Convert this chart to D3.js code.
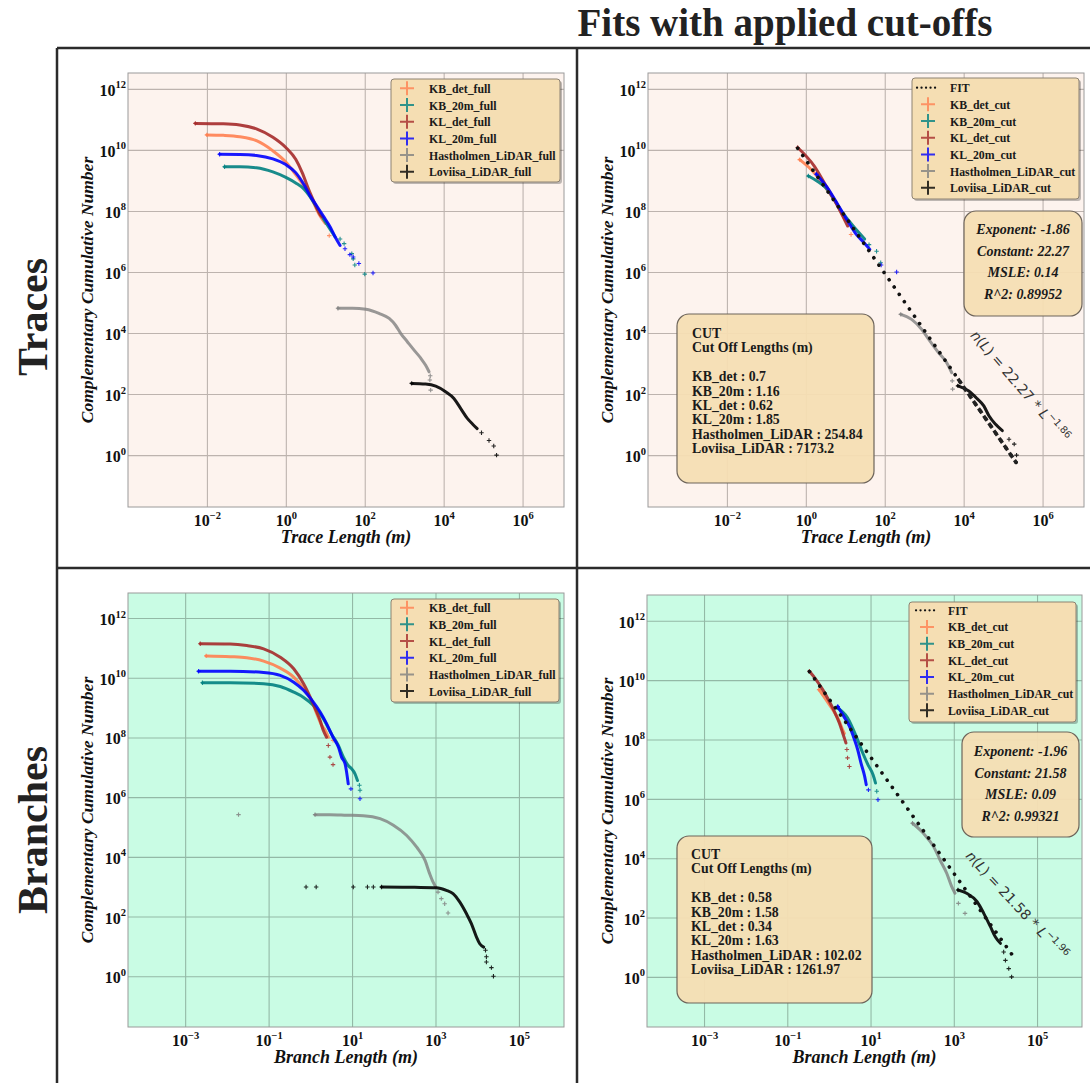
<!DOCTYPE html>
<html>
<head>
<meta charset="utf-8">
<script src="https://cdn.jsdelivr.net/npm/d3@7"></script>
<style>
  html, body { margin: 0; padding: 0; background: #fff; }
  svg { display: block; }
</style>
</head>
<body>
<svg id="fig" width="1090" height="1083"></svg>
<script>
// ---------- series identity ----------
const seriesNames = ["KB_det", "KB_20m", "KL_det", "KL_20m", "Hastholmen_LiDAR", "Loviisa_LiDAR"];
const seriesColors = ["#ff7f50", "#008080", "#a52a2a", "#0000ff", "#808080", "#000000"];

// ---------- trace lengths, full datasets: [length (m), complementary cumulative number] ----------
const traceFullKBdet = [[0.01,3.1e10],[0.026,3.0e10],[0.068,2.7e10],[0.18,2.0e10],[0.47,9.3e9],[1.0,4.0e9],[1.78,1.55e9],[2.9,6.5e8],[4.7,2.3e8],[6.8,8.3e7],[10,3.9e7]];
const traceFullKBdetTail = [[12.6,1.55e7]];
const traceFullKB20m = [[0.028,2.8e9],[0.068,2.8e9],[0.18,2.6e9],[0.47,1.9e9],[1.0,1.26e9],[1.78,8.3e8],[2.9,5.2e8],[3.8,3.4e8],[8.3,6.5e7],[17.8,1.4e7]];
const traceFullKB20mTail = [[23.7,1.2e7],[30,8.5e6],[47,4.0e6],[51,2.7e6],[56,1.7e6],[100,8.5e5]];
const traceFullKLdet = [[0.0051,7.4e10],[0.026,7.2e10],[0.068,6.6e10],[0.18,4.9e10],[0.47,2.6e10],[1.0,1.2e10],[1.78,4.9e9],[2.6,1.8e9],[3.8,5.0e8],[5.6,1.6e8],[7.5,7.4e7],[8.3,6.5e7]];
const traceFullKLdetTail = [];
const traceFullKL20m = [[0.021,7.2e9],[0.068,7.1e9],[0.18,6.6e9],[0.47,5.1e9],[1.0,3.3e9],[1.78,1.8e9],[2.9,7.2e8],[4.2,3.0e8],[6.2,1.4e8],[9.1,6.5e7],[13.3,3.0e7],[17.8,1.4e7],[23.7,7.4e6]];
const traceFullKL20mTail = [[31.6,5.8e6],[42,3.7e6],[51,3.1e6],[71,1.9e6],[162,9.3e5]];
const traceFullHast = [[21,6.5e4],[49,6.5e4],[107,6.0e4],[229,4.4e4],[417,3.0e4],[603,1.8e4],[813,9.8e3],[1200,5.2e3],[1780,2.75e3],[2630,1.5e3],[3470,890],[4270,540]];
const traceFullHastTail = [[4570,400],[4470,290],[4680,135]];
const traceFullLov = [[1550,224],[3470,214],[6300,182],[11200,120],[18200,72],[26900,34],[39800,16],[53700,10.5],[70800,7.4]];
const traceFullLovTail = [[91000,5.4],[141000,3.0],[186000,2.0],[219000,1]];

// ---------- trace lengths, after cut-off ----------
const traceCutKBdet = [[0.7,4.8e9],[1.62,1.8e9],[2.95,6.5e8],[6.3,1.6e8],[10,5.0e7]];
const traceCutKBdetTail = [[14,1.7e7]];
const traceCutKB20m = [[1.16,1.4e9],[2.0,9.3e8],[3.2,5.8e8],[7.9,1.0e8],[15.8,3.2e7],[31,1.2e7]];
const traceCutKB20mTail = [[40,7.9e6],[62,4.8e6],[79,2.0e6]];
const traceCutKLdet = [[0.62,1.2e10],[1.62,3.0e9],[2.95,8.3e8],[5.6,2.0e8],[11.5,3.2e7]];
const traceCutKLdetTail = [];
const traceCutKL20m = [[1.85,1.6e9],[3.5,5.8e8],[6.5,1.6e8],[11.5,4.7e7],[19,1.7e7],[28,1.0e7],[42,5.5e6]];
const traceCutKL20mTail = [[81,1.7e6],[200,1.0e6]];
const traceCutHast = [[255,4.1e4],[480,2.8e4],[870,1.3e4],[1290,6.3e3],[2290,2.3e3],[3720,1.07e3],[5000,500]];
const traceCutHastTail = [[5130,270],[5250,145]];
const traceCutLov = [[7170,186],[13500,126],[21900,71],[32400,41],[43700,19.5],[64600,10.2],[95500,6.3]];
const traceCutLovTail = [[141000,3.3],[191000,2.3],[219000,1]];

// ---------- branch lengths, full datasets ----------
const branchFullKBdet = [[0.0032,5.4e10],[0.012,5.1e10],[0.030,4.7e10],[0.076,3.6e10],[0.19,2.1e10],[0.40,1.05e10],[0.69,4.3e9],[1.1,1.55e9],[1.43,6.2e8],[1.88,2.5e8],[2.26,1.74e8],[2.7,1.02e8]];
const branchFullKBdetTail = [[3.5,8e7]];
const branchFullKB20m = [[0.0026,6.8e9],[0.012,6.8e9],[0.076,6.3e9],[0.19,5.1e9],[0.40,3.3e9],[0.69,2.2e9],[1.19,1.17e9],[2.04,4.3e8],[3.2,1.32e8],[4.7,5.4e7],[6.2,2.2e7],[8.1,1.15e7],[9.8,8.9e6],[11.7,6.2e6],[13.5,3.6e6]];
const branchFullKB20mTail = [[15,2.5e6],[15.5,1.7e6]];
const branchFullKLdet = [[0.0023,1.38e11],[0.012,1.35e11],[0.030,1.2e11],[0.076,9.3e10],[0.19,4.9e10],[0.40,2.0e10],[0.69,6.3e9],[1.0,2.2e9],[1.32,9.1e8],[1.72,3.7e8],[2.04,1.74e8],[2.45,1.02e8]];
const branchFullKLdetTail = [[2.7,5.4e7],[2.95,2.2e7],[3.5,1.23e7]];
const branchFullKL20m = [[0.0021,1.66e10],[0.012,1.66e10],[0.076,1.5e10],[0.19,1.2e10],[0.40,7.1e9],[0.69,3.8e9],[1.1,1.74e9],[1.72,7.1e8],[2.45,2.9e8],[3.5,1.02e8],[4.7,4.8e7],[5.6,2.2e7],[6.8,1.3e7],[7.4,6.9e6],[8.1,2.8e6]];
const branchFullKL20mTail = [[9.4,1.9e6],[15.5,8.9e5]];
const branchFullHast = [[1.3,2.6e5],[2.95,2.6e5],[7.4,2.5e5],[18.6,2.4e5],[47,1.9e5],[98,1.15e5],[204,5.2e4],[355,2.1e4],[562,7.6e3],[724,2.75e3],[871,1.45e3],[1020,980]];
const branchFullHastTail = [[0.019,2.6e5],[1150,660],[1380,400],[1660,270],[2000,132]];
const branchFullLov = [[51,980],[316,955],[1050,930],[1820,760],[2630,590],[3800,310],[5500,126],[7240,58],[9550,21],[11500,12.3],[14300,9.5]];
const branchFullLovTail = [[0.79,980],[1.38,980],[10.7,980],[23.4,980],[32.4,980],[15800,7.4],[16600,4.5],[16600,3.0],[21900,1.95],[24500,1]];

// ---------- branch lengths, after cut-off ----------
const branchCutKBdet = [[0.58,4.8e9],[0.85,2.2e9],[1.23,1.02e9],[1.78,4.1e8],[2.14,2.1e8],[2.35,1.6e8]];
const branchCutKBdetTail = [];
const branchCutKB20m = [[1.58,1.17e9],[2.8,5.4e8],[4.5,1.3e8],[6.5,3.5e7],[8.7,1.4e7],[11.5,6.5e6],[13.2,3.4e6]];
const branchCutKB20mTail = [[14.1,1.8e6]];
const branchCutKLdet = [[0.34,2.0e10],[0.49,1.05e10],[0.71,4.8e9],[1.02,1.95e9],[1.35,8.9e8],[1.78,3.6e8],[2.14,1.66e8],[2.57,7.6e7]];
const branchCutKLdetTail = [[2.7,4.6e7],[2.8,2.4e7],[3.1,1.23e7]];
const branchCutKL20m = [[1.63,1.3e9],[2.14,6.9e8],[3.1,2.8e8],[4.1,1.0e8],[4.9,4.6e7],[5.9,1.6e7],[7.2,5.8e6],[7.9,3.0e6]];
const branchCutKL20mTail = [[8.9,2.0e6],[15.1,9.3e5]];
const branchCutHast = [[102,1.5e5],[186,6.9e4],[324,2.5e4],[468,8.7e3],[676,3.1e3],[891,1.1e3],[1070,660]];
const branchCutHastTail = [[1290,300],[1860,138]];
const branchCutLov = [[1262,850],[2040,660],[3630,340],[5250,138],[7590,49],[10000,22],[13200,13.5]];
const branchCutLovTail = [[15800,6.9],[17400,3.6],[20900,1.9],[24500,1]];

// ---------- cut-offs and power-law fit results ----------
const traceCutoffs = [0.7, 1.16, 0.62, 1.85, 254.84, 7173.2];
const branchCutoffs = [0.58, 1.58, 0.34, 1.63, 102.02, 1261.97];
// exponent, constant (natural log), MSLE, R^2
const traceFitStats = [-1.86, 22.27, 0.14, 0.89952];
const branchFitStats = [-1.96, 21.58, 0.09, 0.99321];

// ---------- tick exponents ----------
const traceXTickExps = [-2, 0, 2, 4, 6];
const branchXTickExps = [-3, -1, 1, 3, 5];
const yTickExps = [0, 2, 4, 6, 8, 10, 12];

// ---------------------------------------------------------------------------
const svg = d3.select("#fig");
const defs = svg.append("defs");
const SERIF = "'Liberation Serif','Times New Roman',serif";
const MINUS = "\u2212";
const expText = e => (e < 0 ? MINUS : "") + Math.abs(e);
const cross = r => `M${-r},0H${r}M0,${-r}V${r}`;

function makePanel(cfg) {
  const { left, top, w, h } = cfg;
  const x = d3.scaleLog().domain(cfg.xDomain.map(e => Math.pow(10, e))).range([left, left + w]);
  const y = d3.scaleLog().domain(cfg.yDomain.map(e => Math.pow(10, e))).range([top + h, top]);
  const g = svg.append("g");

  defs.append("clipPath").attr("id", "clip-" + cfg.id)
    .append("rect").attr("x", left).attr("y", top).attr("width", w).attr("height", h);

  g.append("rect").attr("x", left).attr("y", top).attr("width", w).attr("height", h).attr("fill", cfg.bg);

  const xTicks = cfg.xTickExps.map(e => Math.pow(10, e));
  const yTicks = yTickExps.map(e => Math.pow(10, e));

  // grid lines
  const gx = g.append("g").attr("transform", `translate(0,${top + h})`)
    .call(d3.axisBottom(x).tickValues(xTicks).tickSize(-h).tickFormat(""));
  const gy = g.append("g").attr("transform", `translate(${left},0)`)
    .call(d3.axisLeft(y).tickValues(yTicks).tickSize(-w).tickFormat(""));
  [gx, gy].forEach(a => {
    a.select(".domain").remove();
    a.selectAll(".tick text").remove();
    a.selectAll(".tick line").attr("stroke", cfg.gridColor).attr("stroke-width", 1.1);
  });

  // tick labels: 10 with superscript exponent
  gx.selectAll(".tick").each(function (d) {
    const t = d3.select(this).append("text")
      .attr("y", 19).attr("text-anchor", "middle")
      .attr("font-family", SERIF).attr("font-weight", "bold").attr("font-size", 16).attr("fill", "#111");
    t.append("tspan").text("10");
    t.append("tspan").attr("dy", -7.5).attr("font-size", 10.5).text(expText(Math.round(Math.log10(d))));
  });
  gy.selectAll(".tick").each(function (d) {
    const t = d3.select(this).append("text")
      .attr("x", -2).attr("y", 6.5).attr("text-anchor", "end")
      .attr("font-family", SERIF).attr("font-weight", "bold").attr("font-size", 16).attr("fill", "#111");
    t.append("tspan").text("10");
    t.append("tspan").attr("dy", -7.5).attr("font-size", 10.5).text(expText(Math.round(Math.log10(d))));
  });

  // data: dense part as a thick trace, sparse outliers as small crosses
  const dg = g.append("g").attr("clip-path", `url(#clip-${cfg.id})`);
  const line = d3.line().x(d => x(d[0])).y(d => y(d[1])).curve(d3.curveMonotoneX);
  cfg.main.forEach((pts, i) => {
    const col = seriesColors[i];
    dg.append("path").datum(pts).attr("d", line)
      .attr("fill", "none").attr("stroke", col).attr("stroke-width", 3)
      .attr("stroke-opacity", i === 4 ? 0.8 : 0.9)
      .attr("stroke-linejoin", "round").attr("stroke-linecap", "round");
    dg.selectAll(null).data([pts[0]].concat(cfg.tails[i])).join("path")
      .attr("transform", d => `translate(${x(d[0])},${y(d[1])})`)
      .attr("d", cross(2.2))
      .attr("stroke", col).attr("stroke-width", 1.1).attr("stroke-opacity", 0.85);
  });

  // power-law fit: n(L) = exp(C) * L^exponent
  if (cfg.fit) {
    const [expo, cst] = cfg.fit.stats;
    const n = L => Math.exp(cst) * Math.pow(L, expo);
    const lMin = d3.min(cfg.fit.cutoffs);
    const loviisa = cfg.main[5].concat(cfg.tails[5]);
    const lMax = d3.max(loviisa, d => d[0]);
    const fitLine = d3.line().x(d => x(d)).y(d => y(n(d)));
    dg.append("path").datum([lMin, lMax]).attr("d", fitLine)
      .attr("fill", "none").attr("stroke", "#111").attr("stroke-width", 3.6)
      .attr("stroke-linecap", "round").attr("stroke-dasharray", "0.1 8.8");
    if (cfg.fit.denseTail) {
      dg.append("path").datum([cfg.fit.cutoffs[5], lMax]).attr("d", fitLine)
        .attr("fill", "none").attr("stroke", "#222").attr("stroke-width", 3.6)
        .attr("stroke-dasharray", "6 3");
    }
  }

  // frame of the axes
  g.append("rect").attr("x", left).attr("y", top).attr("width", w).attr("height", h)
    .attr("fill", "none").attr("stroke", "#9a9a9a").attr("stroke-width", 1);

  // axis titles
  g.append("text").attr("x", left + w / 2).attr("y", top + h + 36).attr("text-anchor", "middle")
    .attr("font-family", SERIF).attr("font-weight", "bold").attr("font-style", "italic")
    .attr("font-size", 18).attr("fill", "#111").text(cfg.xLabel);
  g.append("text").attr("transform", `translate(${cfg.yLabelX},${top + h / 2}) rotate(-90)`)
    .attr("text-anchor", "middle").attr("dy", 5)
    .attr("font-family", SERIF).attr("font-weight", "bold").attr("font-style", "italic")
    .attr("font-size", 17.5).attr("fill", "#111").text("Complementary Cumulative Number");

  // legend
  const L = cfg.legend;
  const lg = g.append("g");
  lg.append("rect").attr("x", L.x + 2).attr("y", L.y + 2).attr("width", L.w).attr("height", L.h)
    .attr("rx", 3).attr("fill", "#000").attr("fill-opacity", 0.25);
  lg.append("rect").attr("x", L.x).attr("y", L.y).attr("width", L.w).attr("height", L.h)
    .attr("rx", 3).attr("fill", "#f5deb3").attr("stroke", "#8d8272").attr("stroke-width", 1);
  let row = 0;
  const addText = (txt, ry) => lg.append("text").attr("x", L.textX).attr("y", ry + 4.5)
    .attr("font-family", SERIF).attr("font-weight", "bold").attr("font-size", 11.8)
    .attr("fill", "#1a1a1a").text(txt);
  if (cfg.fit) {
    const ry = L.row0;
    lg.append("line").attr("x1", L.markX - 11).attr("x2", L.markX + 11).attr("y1", ry).attr("y2", ry)
      .attr("stroke", "#111").attr("stroke-width", 2.2).attr("stroke-linecap", "round")
      .attr("stroke-dasharray", "0.1 4.4");
    addText("FIT", ry);
    row = 1;
  }
  seriesNames.forEach((nm, i) => {
    const ry = L.row0 + (row + i) * L.gap;
    lg.append("path").attr("transform", `translate(${L.markX},${ry})`)
      .attr("d", cross(7)).attr("stroke", seriesColors[i])
      .attr("stroke-width", 2).attr("stroke-opacity", 0.8);
    addText(nm + cfg.suffix, ry);
  });

  // annotation boxes for the fit
  if (cfg.fit) {
    const S = cfg.fit.statBox;
    g.append("rect").attr("x", S.x).attr("y", S.y).attr("width", S.w).attr("height", S.h)
      .attr("rx", 12).attr("fill", "#f5deb3").attr("fill-opacity", 0.95)
      .attr("stroke", "#6d645a").attr("stroke-width", 1.2);
    const st = cfg.fit.stats;
    const statLines = [`Exponent: ${st[0]}`, `Constant: ${st[1]}`, `MSLE: ${st[2]}`, `R^2: ${st[3]}`];
    statLines.forEach((t, k) => g.append("text")
      .attr("x", S.x + S.w / 2).attr("y", S.line0 + k * S.gap + 5).attr("text-anchor", "middle")
      .attr("font-family", SERIF).attr("font-weight", "bold").attr("font-style", "italic")
      .attr("font-size", 14).attr("fill", "#1a1a1a").text(t));

    const C = cfg.fit.cutBox;
    g.append("rect").attr("x", C.x).attr("y", C.y).attr("width", C.w).attr("height", C.h)
      .attr("rx", 12).attr("fill", "#f5deb3").attr("fill-opacity", 0.95)
      .attr("stroke", "#6d645a").attr("stroke-width", 1.2);
    const cutLines = ["CUT", "Cut Off Lengths (m)", ""].concat(
      seriesNames.map((nm, i) => `${nm} : ${cfg.fit.cutoffs[i]}`));
    cutLines.forEach((t, k) => g.append("text")
      .attr("x", C.textX).attr("y", C.line0 + k * C.gap + 5)
      .attr("font-family", SERIF).attr("font-weight", "bold")
      .attr("font-size", 13.8).attr("fill", "#1a1a1a").text(t));

    // rotated fit equation
    const F = cfg.fit.eq;
    const et = g.append("text").attr("transform", `translate(${F.x},${F.y}) rotate(${F.angle})`)
      .attr("text-anchor", "middle").attr("dy", 5)
      .attr("font-family", "'DejaVu Sans',sans-serif").attr("font-size", 14).attr("fill", "#333");
    et.append("tspan").attr("font-style", "italic").text("n");
    et.append("tspan").text("(");
    et.append("tspan").attr("font-style", "italic").text("L");
    et.append("tspan").text(`) = ${st[1]} * `);
    et.append("tspan").attr("font-style", "italic").text("L");
    et.append("tspan").attr("dy", -6).attr("font-size", 9.8).text(expText(st[0]));
  }
}

const pinkBg = "#fdf3ee", mintBg = "#c9fce4";

makePanel({
  id: "tf", left: 128, top: 73, w: 436, h: 434, xDomain: [-4, 7.05], yDomain: [-1.7, 12.52],
  xTickExps: traceXTickExps, bg: pinkBg, gridColor: "#bdb3ae", xLabel: "Trace Length (m)", yLabelX: 88,
  suffix: "_full",
  main: [traceFullKBdet, traceFullKB20m, traceFullKLdet, traceFullKL20m, traceFullHast, traceFullLov],
  tails: [traceFullKBdetTail, traceFullKB20mTail, traceFullKLdetTail, traceFullKL20mTail, traceFullHastTail, traceFullLovTail],
  legend: { x: 391, y: 79, w: 169, h: 103, row0: 88.3, gap: 16.7, markX: 407, textX: 429 }
});

makePanel({
  id: "tc", left: 648, top: 73, w: 436, h: 434, xDomain: [-4, 7.05], yDomain: [-1.7, 12.52],
  xTickExps: traceXTickExps, bg: pinkBg, gridColor: "#bdb3ae", xLabel: "Trace Length (m)", yLabelX: 608,
  suffix: "_cut",
  main: [traceCutKBdet, traceCutKB20m, traceCutKLdet, traceCutKL20m, traceCutHast, traceCutLov],
  tails: [traceCutKBdetTail, traceCutKB20mTail, traceCutKLdetTail, traceCutKL20mTail, traceCutHastTail, traceCutLovTail],
  legend: { x: 912, y: 78, w: 167, h: 121, row0: 87.7, gap: 16.67, markX: 928, textX: 950 },
  fit: {
    stats: traceFitStats, cutoffs: traceCutoffs, denseTail: true,
    statBox: { x: 964, y: 211, w: 118, h: 105, line0: 229, gap: 21.7 },
    cutBox: { x: 677, y: 314, w: 197, h: 169, textX: 692, line0: 333, gap: 14.4 },
    eq: { x: 1020, y: 386, angle: 49 }
  }
});

makePanel({
  id: "bf", left: 128, top: 593, w: 436, h: 434, xDomain: [-4.37, 6.08], yDomain: [-1.7, 12.84],
  xTickExps: branchXTickExps, bg: mintBg, gridColor: "#93b9a6", xLabel: "Branch Length (m)", yLabelX: 88,
  suffix: "_full",
  main: [branchFullKBdet, branchFullKB20m, branchFullKLdet, branchFullKL20m, branchFullHast, branchFullLov],
  tails: [branchFullKBdetTail, branchFullKB20mTail, branchFullKLdetTail, branchFullKL20mTail, branchFullHastTail, branchFullLovTail],
  legend: { x: 391, y: 599, w: 168, h: 103, row0: 607.7, gap: 16.67, markX: 407, textX: 429 }
});

makePanel({
  id: "bc", left: 647, top: 595, w: 435, h: 432, xDomain: [-4.37, 6.08], yDomain: [-1.69, 12.87],
  xTickExps: branchXTickExps, bg: mintBg, gridColor: "#93b9a6", xLabel: "Branch Length (m)", yLabelX: 608,
  suffix: "_cut",
  main: [branchCutKBdet, branchCutKB20m, branchCutKLdet, branchCutKL20m, branchCutHast, branchCutLov],
  tails: [branchCutKBdetTail, branchCutKB20mTail, branchCutKLdetTail, branchCutKL20mTail, branchCutHastTail, branchCutLovTail],
  legend: { x: 909, y: 602, w: 167, h: 120, row0: 610.3, gap: 16.67, markX: 927, textX: 948 },
  fit: {
    stats: branchFitStats, cutoffs: branchCutoffs, denseTail: false,
    statBox: { x: 962, y: 732, w: 117, h: 105, line0: 751, gap: 21.7 },
    cutBox: { x: 677, y: 836, w: 195, h: 167, textX: 691, line0: 854, gap: 14.4 },
    eq: { x: 1017, y: 905, angle: 47 }
  }
});

// figure frame separating the four panels
const frame = svg.append("g").attr("stroke", "#2b2b2b").attr("stroke-width", 2.5);
frame.append("line").attr("x1", 57).attr("x2", 1090).attr("y1", 48).attr("y2", 48);
frame.append("line").attr("x1", 57).attr("x2", 1090).attr("y1", 568).attr("y2", 568);
frame.append("line").attr("x1", 57).attr("x2", 57).attr("y1", 48).attr("y2", 1083);
frame.append("line").attr("x1", 577).attr("x2", 577).attr("y1", 48).attr("y2", 1083);

// headings
svg.append("text").attr("x", 785).attr("y", 36).attr("text-anchor", "middle")
  .attr("font-family", SERIF).attr("font-weight", "bold").attr("font-size", 39).attr("fill", "#222")
  .text("Fits with applied cut-offs");
svg.append("text").attr("transform", "translate(47,317) rotate(-90)").attr("text-anchor", "middle")
  .attr("font-family", SERIF).attr("font-weight", "bold").attr("font-size", 42).attr("fill", "#222")
  .text("Traces");
svg.append("text").attr("transform", "translate(47,830) rotate(-90)").attr("text-anchor", "middle")
  .attr("font-family", SERIF).attr("font-weight", "bold").attr("font-size", 42).attr("fill", "#222")
  .text("Branches");
</script>
</body>
</html>
